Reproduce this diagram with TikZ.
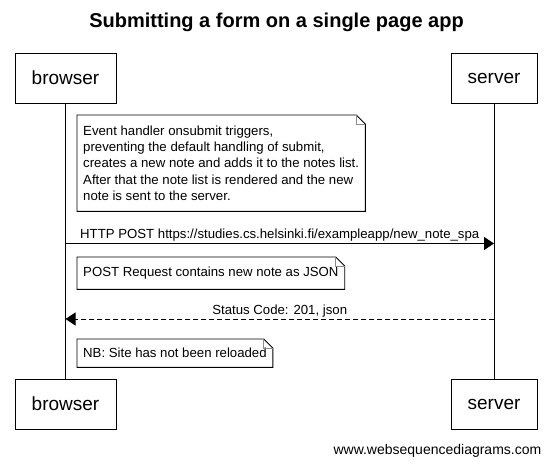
\documentclass[tikz,border=0pt]{standalone}
\usepackage{fontspec}
\setmainfont{Liberation Sans}
\usetikzlibrary{arrows.meta}
\newcommand\drawfoldnote[1]{%
  \draw[notefrm] (#1.north west) -- ([xshift=-9pt]#1.north east) -- ([yshift=-9pt]#1.north east) -- (#1.south east) -- (#1.south west) -- cycle;
  \draw[notefrm, black!45] ([xshift=-9pt]#1.north east) -- ([xshift=-9pt,yshift=-9pt]#1.north east) -- ([yshift=-9pt]#1.north east);
}
\begin{document}
\begin{tikzpicture}[x=1pt,y=-1pt,
  actor/.style={draw, line width=0.9pt, minimum height=50pt, inner sep=0pt, font=\fontsize{19}{22}\selectfont},
  lifeline/.style={line width=0.9pt},
  notefrm/.style={line width=0.9pt},
  notetext/.style={anchor=north west, inner xsep=6pt, inner ysep=0pt, align=left, font=\fontsize{13.2}{16.3}\selectfont},
  msg/.style={line width=0.9pt, -{Triangle[length=10pt,width=13pt]}},
  msglabel/.style={above, inner sep=1.5pt, font=\fontsize{13.2}{15}\selectfont},
]
\useasboundingbox[fill=white] (0,0) rectangle (551,463);
% title
\node[font=\bfseries\fontsize{20}{24}\selectfont] (title) at (276.5,22) {Submitting a form on a single page app};
% participants
\node[actor, minimum width=101pt] (btop) at (65.5,78) {browser};
\node[actor, minimum width=86pt] (stop) at (494,78) {server};
\node[actor, minimum width=101pt] (bbot) at (65.5,404) {browser};
\node[actor, minimum width=86pt] (sbot) at (494,404) {server};
\draw[lifeline] (btop.south) -- (bbot.north);
\draw[lifeline] (stop.south) -- (sbot.north);
% note 1
\node[notetext, minimum width=287pt, minimum height=96pt] (n1) at (77,115)
  {Event handler onsubmit triggers,\\
   preventing the default handling of submit,\\
   creates a new note and adds it to the notes list.\\
   After that the note list is rendered and the new\\
   note is sent to the server.};
\drawfoldnote{n1}
% message 1
\coordinate (m1s) at (btop.south |- 0,243.5);
\coordinate (m1e) at (stop.south |- 0,243.5);
\draw[msg] (m1s) -- node[msglabel] {HTTP POST https://studies.cs.helsinki.fi/exampleapp/new\_note\_spa} (m1e);
% note 2
\node[notetext, minimum width=266pt, minimum height=32pt] (n2) at (77,257) {POST Request contains new note as JSON};
\drawfoldnote{n2}
% message 2
\coordinate (m2s) at (stop.south |- 0,319);
\coordinate (m2e) at (btop.south |- 0,319);
\draw[msg, dash pattern=on 5pt off 3pt] (m2s) -- node[msglabel] {Status Code: 201, json} (m2e);
% note 3
\node[notetext, minimum width=191pt, minimum height=28pt] (n3) at (77,339) {NB: Site has not been reloaded};
\drawfoldnote{n3}
% footer
\node[anchor=east, inner sep=0pt, font=\fontsize{14}{16}\selectfont] (foot) at (541.5,451) {www.websequencediagrams.com};
\end{tikzpicture}
\end{document}
